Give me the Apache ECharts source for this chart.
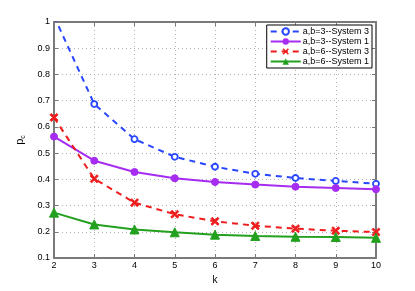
<!DOCTYPE html>
<html><head><meta charset="utf-8">
<script src="https://cdn.jsdelivr.net/npm/echarts@6/dist/echarts.min.js"></script>
<style>html,body{margin:0;padding:0;background:#fff}#c{width:415px;height:291px}</style>
</head><body><div id="c"></div>
<script>
const kValues = [2, 3, 4, 5, 6, 7, 8, 9, 10];
const seriesNames = ['a,b=3--System 3', 'a,b=3--System 1', 'a,b=6--System 3', 'a,b=6--System 1'];
const ab3sys3 = [1.022, 0.687, 0.553, 0.486, 0.448, 0.421, 0.405, 0.394, 0.383];
const ab3sys1 = [0.563, 0.471, 0.428, 0.404, 0.390, 0.380, 0.372, 0.367, 0.362];
const ab6sys3 = [0.636, 0.402, 0.311, 0.267, 0.240, 0.223, 0.212, 0.204, 0.199];
const ab6sys1 = [0.273, 0.228, 0.209, 0.198, 0.189, 0.184, 0.181, 0.180, 0.177];
const yTicks = [0.1, 0.2, 0.3, 0.4, 0.5, 0.6, 0.7, 0.8, 0.9, 1];

const pairs = arr => kValues.map((k, i) => [k, arr[i]]);
const font = 'Liberation Sans, Arial, sans-serif';
const axisGray = '#7a7a7a';

const chart = echarts.init(document.getElementById('c'), null, {renderer: 'canvas'});
const baseAxisLine = {show: true, lineStyle: {color: axisGray, width: 2}};
const option = {
  animation: false,
  backgroundColor: '#fff',
  grid: {left: 54, right: 39, top: 22, bottom: 33},
  legend: {
    data: seriesNames,
    top: 25, right: 43,
    orient: 'vertical',
    backgroundColor: '#fff',
    borderColor: '#000', borderWidth: 1, borderRadius: 0,
    padding: [2, 3, 2, 3],
    itemGap: 1,
    itemWidth: 30, itemHeight: 8,
    textStyle: {fontFamily: font, fontSize: 9, color: '#000', padding: [0, 0, 0, -3]}
  },
  xAxis: [{
    type: 'value', min: 2, max: 10, interval: 1,
    name: 'k', nameLocation: 'middle', nameGap: 12,
    nameTextStyle: {fontFamily: font, fontSize: 10, color: '#000'},
    axisLine: baseAxisLine,
    axisTick: {show: true, inside: true, length: 4, lineStyle: {color: axisGray}},
    axisLabel: {fontFamily: font, fontSize: 9, color: '#000', margin: 3},
    splitLine: {show: true, lineStyle: {color: '#b0b0b0', type: [1, 3], width: 1}}
  }, {
    type: 'value', min: 2, max: 10, interval: 1, position: 'top',
    axisLine: baseAxisLine,
    axisTick: {show: true, inside: true, length: 4, lineStyle: {color: axisGray}},
    axisLabel: {show: false}, splitLine: {show: false}
  }],
  yAxis: [{
    type: 'value', min: 0.1, max: 1, interval: 0.1,
    name: '{p|p}{s|c}', nameLocation: 'middle', nameGap: 25, nameRotate: 90,
    nameTextStyle: {rich: {p: {fontFamily: font, fontSize: 11, color: '#000'}, s: {fontFamily: font, fontSize: 7, color: '#000', verticalAlign: 'bottom', padding: [6, 0, 0, 0]}}},
    axisLine: baseAxisLine,
    axisTick: {show: true, inside: true, length: 4, lineStyle: {color: axisGray}},
    axisLabel: {fontFamily: font, fontSize: 9, color: '#000', margin: 4,
      formatter: v => { const t = yTicks.find(x => Math.abs(x - v) < 1e-6); return t === undefined ? '' : String(t); }},
    splitLine: {show: true, lineStyle: {color: '#b0b0b0', type: [1, 3], width: 1}}
  }, {
    type: 'value', min: 0.1, max: 1, interval: 0.1, position: 'right',
    axisLine: baseAxisLine,
    axisTick: {show: true, inside: true, length: 4, lineStyle: {color: axisGray}},
    axisLabel: {show: false}, splitLine: {show: false}
  }],
  series: [
    {name: seriesNames[0], type: 'line', data: pairs(ab3sys3), clip: true,
     symbol: 'circle', symbolSize: 6, showAllSymbol: true,
     itemStyle: {color: '#fff', borderColor: '#2846ff', borderWidth: 1.8},
     lineStyle: {color: '#2846ff', width: 2, type: [6, 5]}},
    {name: seriesNames[1], type: 'line', data: pairs(ab3sys1), clip: true,
     symbol: 'circle', symbolSize: 7,
     itemStyle: {color: '#a52cf0', borderColor: '#a52cf0'},
     lineStyle: {color: '#a52cf0', width: 2}},
    {name: seriesNames[2], type: 'line', data: pairs(ab6sys3), clip: true,
     symbol: 'path://M-1,-1.5L0,-0.5L1,-1.5L1.5,-1L0.5,0L1.5,1L1,1.5L0,0.5L-1,1.5L-1.5,1L-0.5,0L-1.5,-1Z', symbolSize: 8,
     itemStyle: {color: '#ee1c1c', borderColor: '#ee1c1c'},
     lineStyle: {color: '#ee1c1c', width: 2, type: [6, 5]}},
    {name: seriesNames[3], type: 'line', data: pairs(ab6sys1), clip: true,
     symbol: 'triangle', symbolSize: 9,
     itemStyle: {color: '#22a01e', borderColor: '#22a01e'},
     lineStyle: {color: '#22a01e', width: 2}}
  ]
};
chart.setOption(option);
</script></body></html>
